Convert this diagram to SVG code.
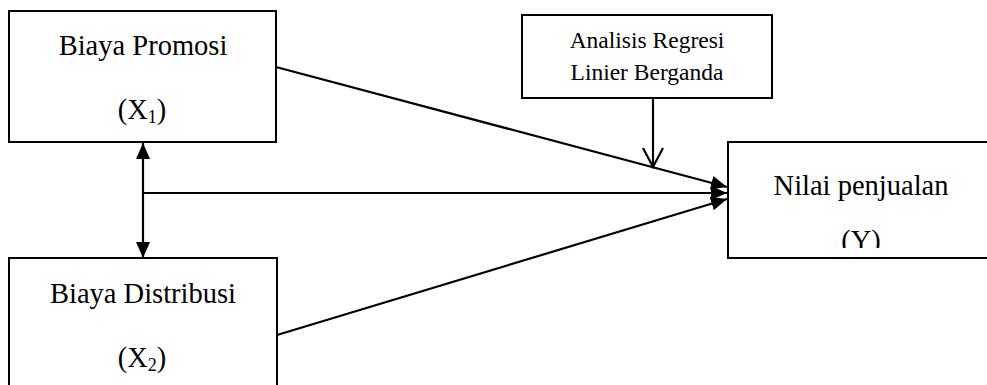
<svg xmlns="http://www.w3.org/2000/svg" width="987" height="385" viewBox="0 0 987 385">
<style>
.box{fill:#fff;stroke:#000;stroke-width:2}
.t{font-family:"Liberation Serif","Times New Roman",serif;font-size:28.5px;fill:#000;text-anchor:middle}
.ts{font-family:"Liberation Serif","Times New Roman",serif;font-size:23.5px;fill:#000;text-anchor:middle}
.ln{stroke:#000;stroke-width:2.2;fill:none}
</style>
<defs>
<marker id="ah" viewBox="0 0 16 14" refX="16" refY="7" markerWidth="16" markerHeight="14" markerUnits="userSpaceOnUse" orient="auto-start-reverse">
<path d="M0,0 L16,7 L0,14 z" fill="#000"/>
</marker>
<clipPath id="cy"><rect x="728" y="142" width="259" height="106"/></clipPath>
</defs>
<g id="connectors">
<line class="ln" x1="276" y1="67" x2="727" y2="187" marker-end="url(#ah)"/>
<line class="ln" x1="143" y1="193" x2="727" y2="193" marker-end="url(#ah)"/>
<line class="ln" x1="277" y1="335" x2="727" y2="199" marker-end="url(#ah)"/>
<line class="ln" x1="143" y1="143" x2="143" y2="258" marker-start="url(#ah)" marker-end="url(#ah)"/>
<line class="ln" x1="653" y1="98" x2="653" y2="166"/>
<polyline class="ln" points="643,148 653,167 663,148"/>
</g>
<g id="node-x1">
<rect class="box" x="9" y="11" width="267" height="131"/>
<text class="t" x="143" y="55">Biaya Promosi</text>
<text class="t" x="142" y="119">(X<tspan font-size="18" dy="4">1</tspan><tspan dy="-4">)</tspan></text>
</g>
<g id="node-x2">
<rect class="box" x="9" y="258" width="268" height="140"/>
<text class="t" x="143" y="303">Biaya Distribusi</text>
<text class="t" x="142" y="367">(X<tspan font-size="18" dy="4">2</tspan><tspan dy="-4">)</tspan></text>
</g>
<g id="node-analisis">
<rect class="box" x="522" y="15" width="250" height="83"/>
<text class="ts" x="647" y="48">Analisis Regresi</text>
<text class="ts" x="647" y="80">Linier Berganda</text>
</g>
<g id="node-y">
<rect class="box" x="728" y="142" width="270" height="116"/>
<text class="t" x="861" y="195">Nilai penjualan</text>
<text class="t" x="861" y="250" clip-path="url(#cy)">(Y)</text>
</g>
</svg>
